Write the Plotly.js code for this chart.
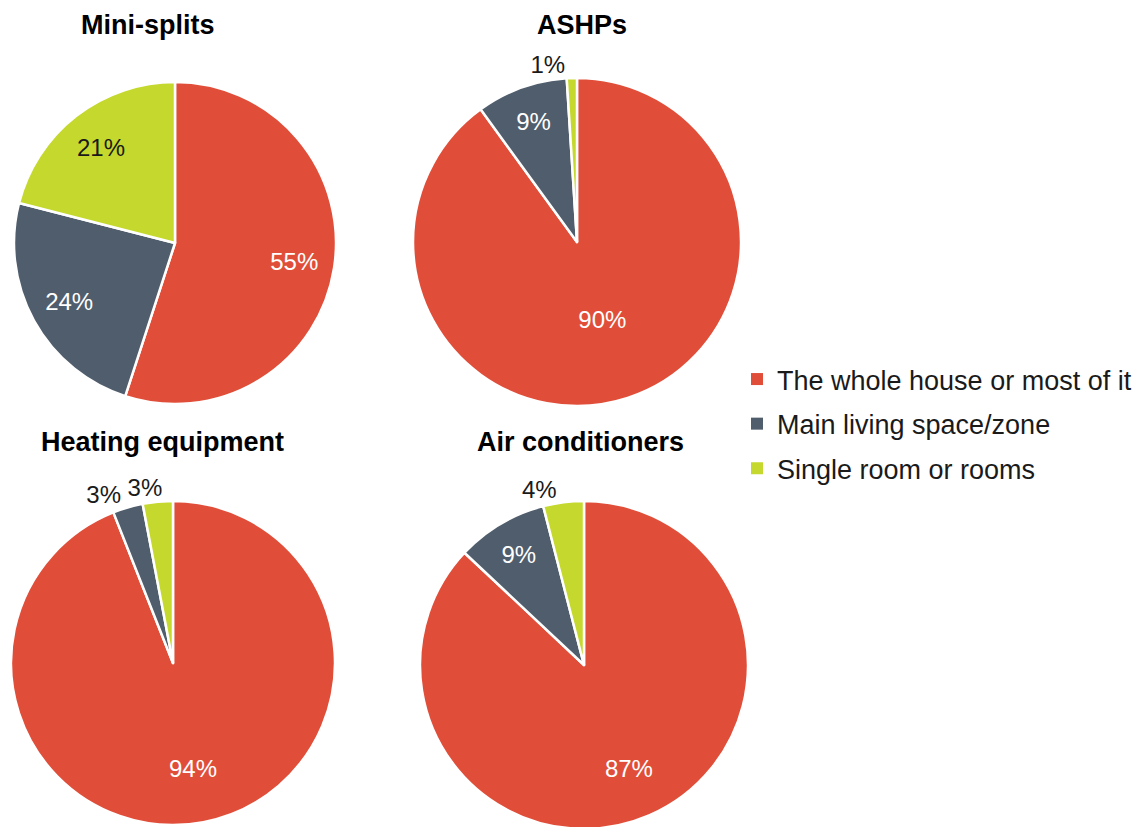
<!DOCTYPE html>
<html>
<head>
<meta charset="utf-8">
<script src="https://cdn.plot.ly/plotly-3.0.1.min.js"></script>
<style>
html,body{margin:0;padding:0;overflow:hidden;background:#fff;}
#chart{width:1142px;height:830px;}
</style>
</head>
<body>
<div id="chart"></div>
<script>
// ---- data ----
const categories = ["The whole house or most of it", "Main living space/zone", "Single room or rooms"];
const chartTitles = ["Mini-splits", "ASHPs", "Heating equipment", "Air conditioners"];
const miniSplits = [55, 24, 21];
const ashps = [90, 9, 1];
const heatingEquipment = [94, 3, 3];
const airConditioners = [87, 9, 4];

// ---- styles / layout ----
const colors = ["#E04E39", "#4F5D6C", "#C5D82E"];
const clear = ["rgba(0,0,0,0)", "rgba(0,0,0,0)", "rgba(0,0,0,0)"];
const FONT = "'Liberation Sans', Arial, Helvetica, sans-serif";
const W = 1142, H = 830;

function dom(cx, cy, r) {
  return { x: [(cx - r) / W, (cx + r) / W], y: [1 - (cy + r) / H, 1 - (cy - r) / H] };
}

// label layers: transparent overlays that only carry the percentage text
const pies = [
  { values: miniSplits, geom: [175, 243, 161], title: [148, 25],
    layers: [{ hole: 0.5, rot: 0, pos: ["inside", "inside", "inside"] }] },
  { values: ashps, geom: [577, 242, 164], title: [582, 25],
    layers: [{ hole: 0, rot: 0, pos: ["inside", "inside", "outside"] }] },
  { values: heatingEquipment, geom: [173, 663, 162], title: [162, 442],
    layers: [{ hole: 0.32, rot: 0, pos: ["inside", "outside", "none"] },
             { hole: 0, rot: 4, pos: ["none", "none", "outside"] }] },
  { values: airConditioners, geom: [584, 665, 164], title: [580, 442],
    layers: [{ hole: 0.38, rot: 0, pos: ["inside", "inside", "outside"] }] }
];

const traces = [];
pies.forEach((p, i) => {
  const d = dom(p.geom[0], p.geom[1], p.geom[2]);
  // coloured base pie
  traces.push({
    type: "pie", labels: categories, values: p.values, name: chartTitles[i],
    sort: false, direction: "clockwise", rotation: 0, domain: d,
    marker: { colors: colors, line: { color: "#ffffff", width: 2.5 } },
    textinfo: "none", hoverinfo: "label+percent", showlegend: false
  });
  // text layers
  p.layers.forEach(L => {
    traces.push({
      type: "pie", labels: categories, values: p.values, name: chartTitles[i],
      sort: false, direction: "clockwise", rotation: L.rot, domain: d, hole: L.hole,
      marker: { colors: clear, line: { width: 0 } },
      texttemplate: "%{value}%", textinfo: "text", textposition: L.pos,
      insidetextorientation: "horizontal",
      insidetextfont: { family: FONT, size: 24, color: ["#ffffff", "#ffffff", "#1a1a1a"] },
      outsidetextfont: { family: FONT, size: 24, color: "#1a1a1a" },
      hoverinfo: "skip", showlegend: false
    });
  });
});

// legend entries (one group per category so the rows can be spaced)
categories.forEach((c, k) => {
  traces.push({
    type: "pie", labels: [c], values: [miniSplits[k]],
    domain: { x: [0.9990, 0.9991], y: [0.0010, 0.0011] },
    marker: { colors: [colors[k]], line: { width: 0 } },
    textinfo: "none", hoverinfo: "skip",
    legendgroup: "g" + k, showlegend: true
  });
});

const annotations = pies.map((p, i) => ({
  text: "<b>" + chartTitles[i] + "</b>",
  xref: "paper", yref: "paper",
  x: p.title[0] / W, y: 1 - p.title[1] / H,
  xanchor: "center", yanchor: "middle",
  showarrow: false,
  font: { family: FONT, size: 27, color: "#000000" }
}));

const layout = {
  width: W, height: H,
  margin: { l: 0, r: 0, t: 0, b: 0, pad: 0 },
  paper_bgcolor: "#ffffff",
  plot_bgcolor: "#ffffff",
  font: { family: FONT, color: "#1a1a1a" },
  showlegend: true,
  legend: {
    x: 737 / W, xanchor: "left",
    y: 1 - 355 / H, yanchor: "top",
    font: { family: FONT, size: 27, color: "#1a1a1a" },
    bgcolor: "rgba(0,0,0,0)",
    traceorder: "grouped",
    tracegroupgap: 6.5
  },
  annotations: annotations
};

Plotly.newPlot("chart", traces, layout, { displayModeBar: false, staticPlot: true });
</script>
</body>
</html>
